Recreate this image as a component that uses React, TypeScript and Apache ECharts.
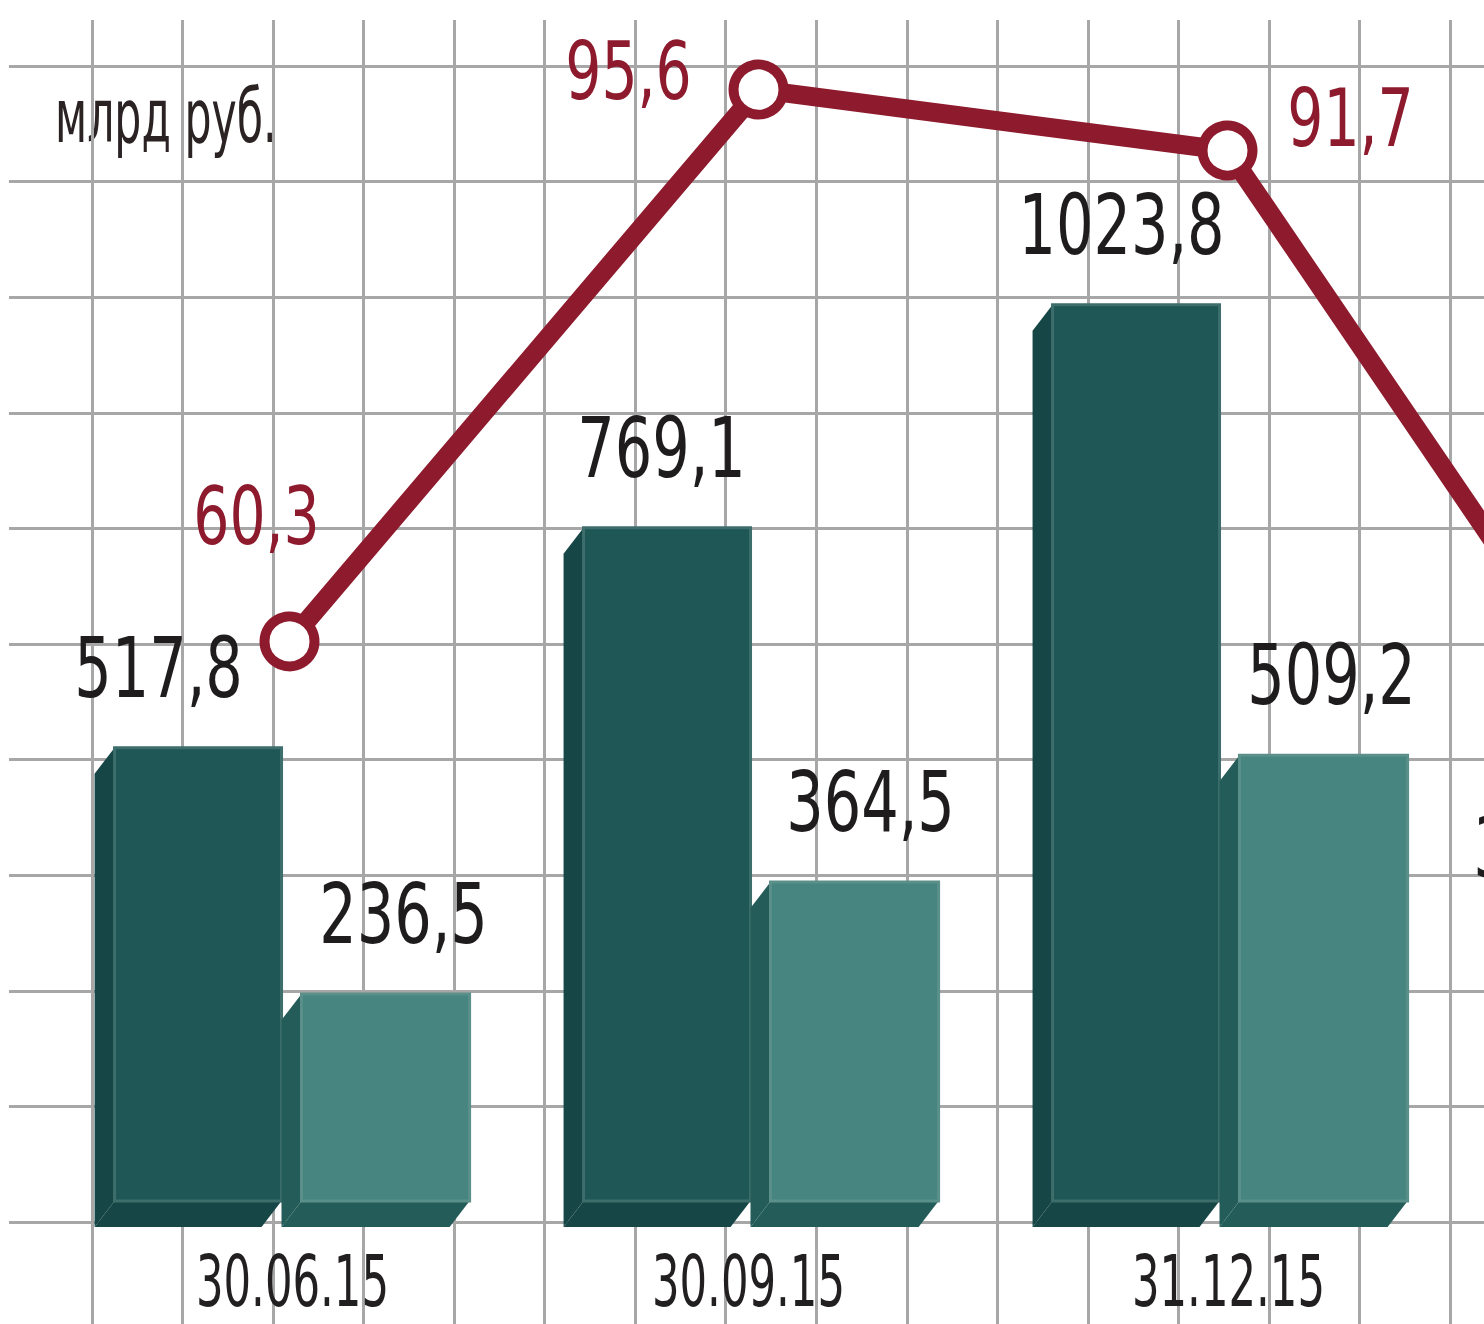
import React, { useEffect, useRef } from "react";
import * as echarts from "echarts";

const categories = ["30.06.15", "30.09.15", "31.12.15", "31.03.16"];
const darkValues = [517.8, 769.1, 1023.8, 312.4];
const lightValues = [236.5, 364.5, 509.2, 160.0];
const lineValues = [60.3, 95.6, 91.7, 47.6];
const unitLabel = "млрд руб.";

// style-only tweaks (label nudges / visibility inside the cropped view)
const darkLabelDx = [-131, -97, -106, -139];
const lightLabelDx = [114, 112, 104, 110];
const dateDx = [3, -10, 1, 0];
const lineLabelOffsets = [
  [-33, -125],
  [-130, -18],
  [123, -32],
  [-130, -18],
];
const visibleDark = [true, true, true, true];
const visibleOther = [true, true, true, false];

const FONT = "'DejaVu Sans Condensed', 'DejaVu Sans', sans-serif";
const RED = "#8e1a2d";
const fmt = (v: number) => v.toFixed(1).replace(".", ",");

function barRenderer(
  frontL: number,
  frontR: number,
  face: string,
  side: string,
  edge: string,
  labelDx: number[],
  showLabel: boolean[]
) {
  return (params: any, api: any) => {
    const i = api.value(0);
    const v = api.value(1);
    const top = api.coord([i, v]);
    const base = api.coord([i, 0]);
    const bw = api.size([1, 0])[0];
    const cx = top[0];
    const l = cx + frontL * bw;
    const r = cx + frontR * bw;
    const ty = top[1];
    const by = base[1];
    const dx = -20;
    const dy = 26;
    const children: any[] = [
      {
        type: "polygon",
        shape: { points: [[l, ty], [l + dx, ty + dy], [l + dx, by + dy], [l, by]] },
        style: { fill: side },
      },
      {
        type: "polygon",
        shape: { points: [[l, by], [r, by], [r + dx, by + dy], [l + dx, by + dy]] },
        style: { fill: side },
      },
      {
        type: "rect",
        shape: { x: l, y: ty, width: r - l, height: by - ty },
        style: { fill: face, stroke: edge, lineWidth: 3 },
      },
    ];
    if (showLabel[i]) {
      children.push({
        type: "text",
        x: cx + labelDx[i],
        y: ty - 80,
        scaleX: 0.78,
        style: {
          text: fmt(v),
          fill: "#1e1c1c",
          fontSize: 84,
          fontFamily: FONT,
          align: "center",
          verticalAlign: "middle",
        },
      });
    }
    return { type: "group", children };
  };
}

export default function App() {
  const ref = useRef<HTMLDivElement>(null);
  useEffect(() => {
    if (!ref.current) return;
    const chart = echarts.init(ref.current, null, { renderer: "svg" });
    const W = 1960;
    chart.setOption({
      animation: false,
      backgroundColor: "#ffffff",
      grid: [
        { left: 55, width: 1876, top: 63, height: 1138 },
        { left: 9, width: W - 9, top: 66, height: 1156 },
        { left: 92, width: 90.53 * 20, top: 20, height: 1304 },
      ],
      xAxis: [
        {
          type: "category",
          gridIndex: 0,
          data: categories,
          boundaryGap: true,
          axisLine: { show: false },
          axisTick: { show: false },
          axisLabel: { show: false },
          splitLine: { show: false },
        },
        { type: "value", gridIndex: 1, min: 0, max: 1, show: false },
        {
          type: "value",
          gridIndex: 2,
          min: 0,
          max: 20,
          interval: 1,
          axisLine: { show: false },
          axisTick: { show: false },
          axisLabel: { show: false },
          splitLine: { show: true, lineStyle: { color: "#a7a7a7", width: 3 } },
        },
      ],
      yAxis: [
        { type: "value", gridIndex: 0, min: 0, max: 1300, show: false },
        { type: "value", gridIndex: 0, min: 24.5, max: 97.3, show: false },
        {
          type: "value",
          gridIndex: 1,
          min: 0,
          max: 10,
          interval: 1,
          axisLine: { show: false },
          axisTick: { show: false },
          axisLabel: { show: false },
          splitLine: { show: true, lineStyle: { color: "#a7a7a7", width: 3 } },
        },
        { type: "value", gridIndex: 2, min: 0, max: 1, show: false },
      ],
      graphic: [
        {
          type: "text",
          x: 55,
          y: 116,
          scaleX: 0.64,
          style: {
            text: unitLabel,
            fill: "#2b2323",
            fontSize: 74,
            fontFamily: FONT,
            align: "left",
            verticalAlign: "middle",
          },
        },
      ],
      series: [
        {
          type: "custom",
          name: "dark",
          xAxisIndex: 0,
          yAxisIndex: 0,
          z: 2,
          data: darkValues.map((v, i) => [i, v]),
          renderItem: barRenderer(-0.373, -0.017, "#1f5756", "#164645", "#3d6e6b", darkLabelDx, visibleDark),
        },
        {
          type: "custom",
          name: "light",
          xAxisIndex: 0,
          yAxisIndex: 0,
          z: 3,
          data: lightValues.map((v, i) => [i, v]),
          renderItem: barRenderer(0.0256, 0.384, "#468580", "#245c59", "#5a8f8a", lightLabelDx, visibleOther),
        },
        {
          type: "custom",
          name: "dates",
          xAxisIndex: 0,
          yAxisIndex: 0,
          z: 3,
          data: categories.map((c, i) => [i, 0]).filter((d) => visibleOther[d[0]]),
          renderItem: (params: any, api: any) => {
            const i = api.value(0);
            const p = api.coord([i, 0]);
            return {
              type: "text",
              x: p[0] + dateDx[i],
              y: p[1] + 80,
              scaleX: 0.67,
              style: {
                text: categories[i],
                fill: "#221f20",
                fontSize: 72,
                fontFamily: FONT,
                align: "center",
                verticalAlign: "middle",
              },
            };
          },
        },
        {
          type: "line",
          name: "line",
          xAxisIndex: 0,
          yAxisIndex: 1,
          z: 5,
          symbol: "circle",
          symbolSize: 50,
          lineStyle: { color: RED, width: 19 },
          itemStyle: { color: "#ffffff", borderColor: RED, borderWidth: 10 },
          label: { show: false },
          data: lineValues,
        },
        {
          type: "custom",
          name: "lineLabels",
          xAxisIndex: 0,
          yAxisIndex: 1,
          z: 6,
          data: lineValues.map((v, i) => [i, v]).filter((d) => visibleOther[d[0]]),
          renderItem: (params: any, api: any) => {
            const i = api.value(0);
            const v = api.value(1);
            const p = api.coord([i, v]);
            const off = lineLabelOffsets[i];
            return {
              type: "text",
              x: p[0] + off[0],
              y: p[1] + off[1],
              scaleX: 0.79,
              style: {
                text: fmt(v),
                fill: RED,
                fontSize: 80,
                fontFamily: FONT,
                align: "center",
                verticalAlign: "middle",
              },
            };
          },
        },
      ],
    });
    return () => chart.dispose();
  }, []);
  return (
    <div
      style={{
        position: "fixed",
        left: 0,
        top: 0,
        width: 1484,
        height: 1324,
        overflow: "hidden",
        background: "#fff",
      }}
    >
      <div ref={ref} style={{ width: 1960, height: 1324 }} />
    </div>
  );
}
